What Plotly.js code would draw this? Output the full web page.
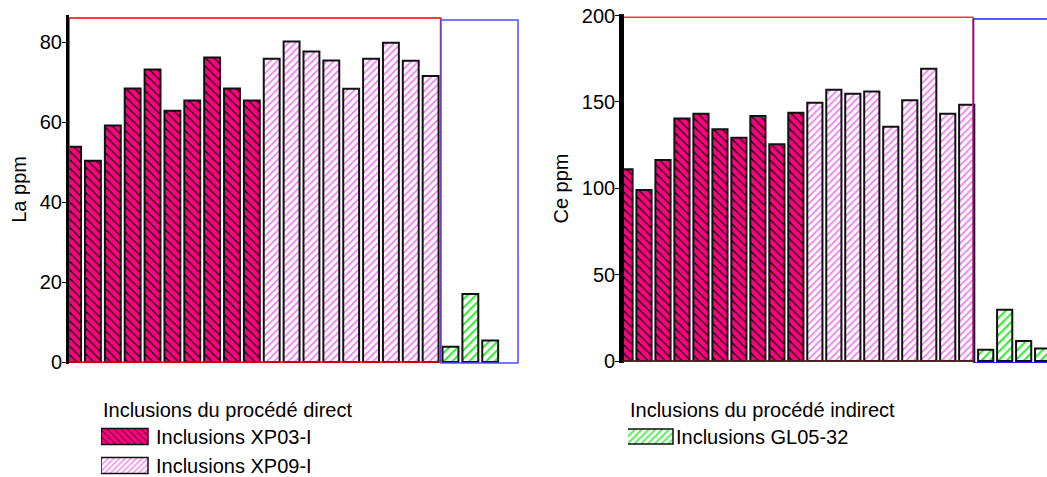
<!DOCTYPE html>
<html>
<head>
<meta charset="utf-8">
<script src="https://cdn.plot.ly/plotly-3.0.1.min.js"></script>
<style>
html,body{margin:0;padding:0;background:#fff;}
#chart{width:1047px;height:477px;}
</style>
</head>
<body>
<div id="chart"></div>
<script>
// ---- data ----
var seriesNames = ['Inclusions XP03-I', 'Inclusions XP09-I', 'Inclusions GL05-32'];
var legendTitles = ['Inclusions du procédé direct', 'Inclusions du procédé indirect'];
var yTitles = ['La ppm', 'Ce ppm'];

// bar positions (sample index along the axis)
var xp03Pos = [1, 2, 3, 4, 5, 6, 7, 8, 9, 10];
var xp09Pos = [11, 12, 13, 14, 15, 16, 17, 18, 19];
var gl05PosLa = [20, 21, 22];
var gl05PosCe = [20, 21, 22, 23];

// La (ppm)
var laXP03 = [53.8, 50.3, 59.1, 68.4, 73.1, 62.8, 65.4, 76.1, 68.4, 65.4];
var laXP09 = [75.8, 80.1, 77.6, 75.4, 68.3, 75.8, 79.8, 75.3, 71.5];
var laGL05 = [3.8, 17.0, 5.4];

// Ce (ppm)
var ceXP03 = [111.0, 99.0, 116.4, 140.5, 143.2, 134.2, 129.3, 141.9, 125.5, 143.8];
var ceXP09 = [149.6, 157.1, 154.8, 156.0, 135.7, 151.0, 169.3, 143.2, 148.4];
var ceGL05 = [6.6, 29.7, 11.6, 7.3];

// ---- styles ----
var FONT = 'Liberation Sans, Arial, Helvetica, sans-serif';
var outline = {color: '#111111', width: 2};
var pat = {
  xp03: {shape: '\\', bgcolor: '#ff0080', fgcolor: '#000000', size: 6, solidity: 0.2, fillmode: 'replace'},
  xp09: {shape: '/', bgcolor: '#ffffff', fgcolor: '#f080f0', size: 5, solidity: 0.35, fillmode: 'replace'},
  gl05: {shape: '/', bgcolor: '#ffffff', fgcolor: '#22ee22', size: 6, solidity: 0.32, fillmode: 'replace'}
};
function bar(x, y, name, p, color, xa, ya, legend, showlegend) {
  return {
    type: 'bar', x: x, y: y, name: name, width: 0.8,
    xaxis: xa, yaxis: ya, legend: legend, showlegend: showlegend,
    marker: {color: color, line: outline, pattern: p},
    hoverinfo: 'y+name'
  };
}

var data = [
  bar(xp03Pos, laXP03, seriesNames[0], pat.xp03, '#ff0080', 'x', 'y', 'legend', true),
  bar(xp09Pos, laXP09, seriesNames[1], pat.xp09, '#ffffff', 'x', 'y', 'legend', true),
  bar(gl05PosLa, laGL05, seriesNames[2], pat.gl05, '#ffffff', 'x', 'y', 'legend2', true),
  bar(xp03Pos, ceXP03, seriesNames[0], pat.xp03, '#ff0080', 'x2', 'y2', 'legend', false),
  bar(xp09Pos, ceXP09, seriesNames[1], pat.xp09, '#ffffff', 'x2', 'y2', 'legend', false),
  bar(gl05PosCe, ceGL05, seriesNames[2], pat.gl05, '#ffffff', 'x2', 'y2', 'legend2', false)
];

function yaxisStyle(title, range, dtick, domain, lw, anchor, standoff) {
  return {
    domain: domain, range: range, dtick: dtick, tick0: 0, anchor: anchor,
    showgrid: false, zeroline: false,
    showline: true, linecolor: '#000000', linewidth: lw,
    ticks: 'outside', ticklen: 4, tickwidth: 1, tickcolor: '#000000',
    ticklabelstandoff: -4,
    tickfont: {family: FONT, size: 20, color: '#000000'},
    title: {text: title, font: {family: FONT, size: 20, color: '#000000'}, standoff: standoff},
    fixedrange: true
  };
}
function xaxisStyle(range, domain, anchor) {
  return {
    domain: domain, range: range, anchor: anchor,
    showgrid: false, zeroline: false, showline: false,
    showticklabels: false, ticks: '', fixedrange: true
  };
}

var layout = {
  width: 1047, height: 477,
  margin: {l: 0, r: 0, t: 0, b: 0, pad: 0, autoexpand: false},
  paper_bgcolor: '#ffffff', plot_bgcolor: 'rgba(0,0,0,0)',
  barmode: 'overlay',
  showlegend: true,
  font: {family: FONT, size: 20, color: '#000000'},
  xaxis: xaxisStyle([0.794, 23.5], [69 / 1047, 520 / 1047], 'y'),
  yaxis: yaxisStyle(yTitles[0], [-0.5, 86.8], 20, [113 / 477, 462.2 / 477], 3, 'x', 8),
  xaxis2: xaxisStyle([0.93, 23.23], [623.7 / 1047, 1], 'y2'),
  yaxis2: yaxisStyle(yTitles[1], [-1.2, 201], 50, [113.9 / 477, 463.1 / 477], 4.5, 'x2', 9),
  legend: {
    x: 101 / 1047, y: 86 / 477, xanchor: 'left', yanchor: 'top',
    bgcolor: 'rgba(0,0,0,0)', borderwidth: 0, itemwidth: 45,
    traceorder: 'normal', tracegroupgap: 0,
    font: {family: FONT, size: 20, color: '#000000'},
    title: {text: legendTitles[0], side: 'top', font: {family: FONT, size: 20, color: '#000000'}}
  },
  legend2: {
    x: 628 / 1047, y: 86 / 477, xanchor: 'left', yanchor: 'top',
    bgcolor: 'rgba(0,0,0,0)', borderwidth: 0, itemwidth: 38,
    traceorder: 'normal',
    font: {family: FONT, size: 20, color: '#000000'},
    title: {text: legendTitles[1], side: 'top', font: {family: FONT, size: 20, color: '#000000'}}
  },
  shapes: [
    // left chart group boxes
    {type: 'rect', xref: 'x', yref: 'y', x0: 0.794, x1: 19.5, y0: 0, y1: 86, line: {color: '#ff0000', width: 1.5}, fillcolor: 'rgba(0,0,0,0)'},
    {type: 'rect', xref: 'x', yref: 'y', x0: 19.52, x1: 23.4, y0: -0.25, y1: 85.5, line: {color: '#4d4dff', width: 1.5}, fillcolor: 'rgba(0,0,0,0)'},
    // right chart group boxes
    {type: 'rect', xref: 'x2', yref: 'y2', x0: 0.6, x1: 19.33, y0: 0, y1: 199, line: {color: '#ff3333', width: 1.5}, fillcolor: 'rgba(0,0,0,0)'},
    {type: 'rect', xref: 'x2', yref: 'y2', x0: 19.36, x1: 23.8, y0: -1, y1: 198, line: {color: '#2222ff', width: 1.5}, fillcolor: 'rgba(0,0,0,0)'},
    {type: 'line', xref: 'x2', yref: 'y2', x0: 0.6, x1: 19.34, y0: 0, y1: 0, line: {color: '#222222', width: 1.5}}
  ]
};

var gd = document.getElementById('chart');
var specs = {legend: {w: 47, gap: 8, h: 16}, legend2: {w: 47, gap: 3, h: 15}};
function fixSwatches() {
  var items = document.querySelectorAll('#chart g.traces');
  items.forEach(function (g) {
    var txt = g.querySelector('text');
    var p = g.querySelector('.legendpoints path');
    if (!txt || !p) return;
    var d = g.__data__;
    var tr0 = d && d[0] && d[0].trace;
    var lid = (tr0 && tr0.legend) || 'legend';
    var s = specs[lid] || specs.legend;
    var tx = parseFloat(txt.getAttribute('x')) || 0;
    p.removeAttribute('transform');
    var svg = p.ownerSVGElement;
    var M = p.getCTM().inverse().multiply(g.getCTM());
    function tr(x, y) { var pt = svg.createSVGPoint(); pt.x = x; pt.y = y; return pt.matrixTransform(M); }
    var a = tr(tx - s.gap - s.w, 0);
    var b = tr(tx - s.gap, 0);
    var y0 = -s.h / 2, y1 = s.h / 2;
    p.setAttribute('d', 'M' + a.x + ',' + y0 + 'H' + b.x + 'V' + y1 + 'H' + a.x + 'Z');
    p.style.strokeWidth = '1.5px';
  });
}
Plotly.newPlot(gd, data, layout, {displayModeBar: false, staticPlot: true}).then(function () {
  fixSwatches();
  setTimeout(fixSwatches, 30);
});
</script>
</body>
</html>
